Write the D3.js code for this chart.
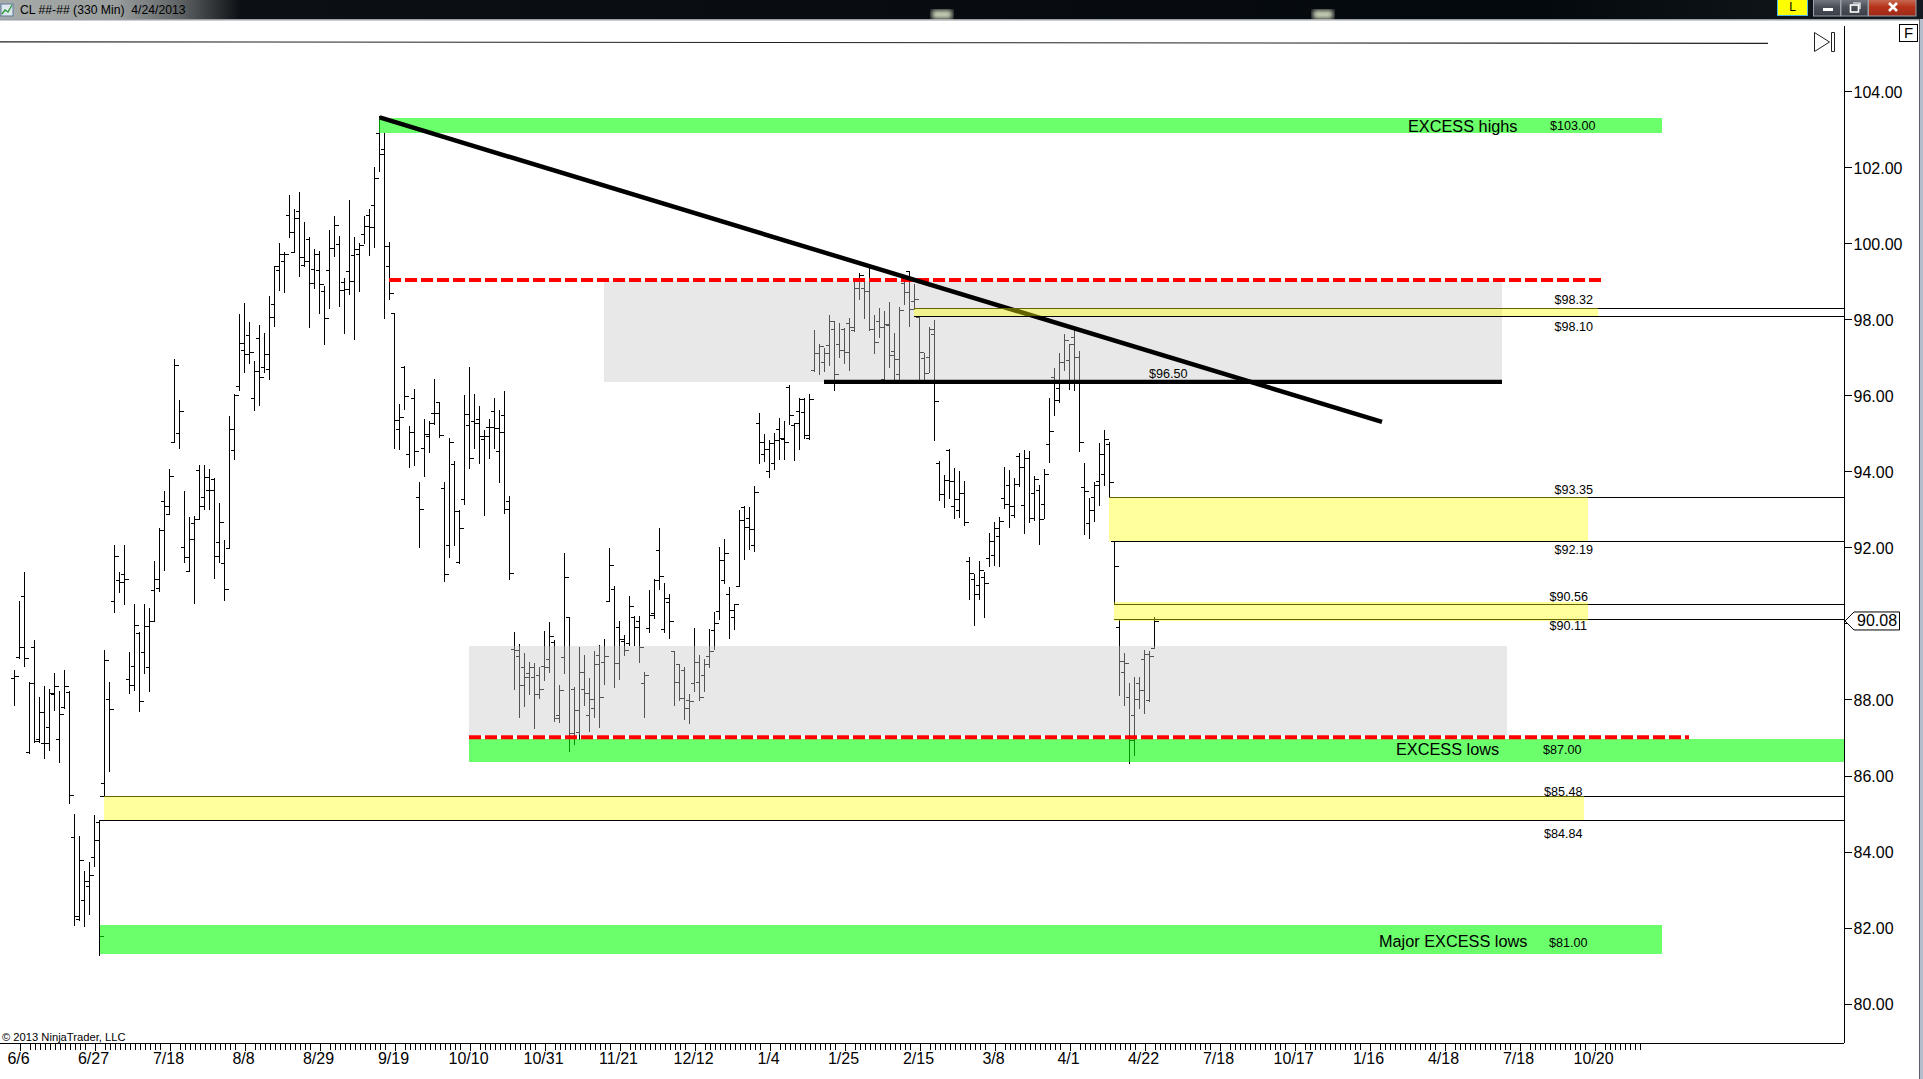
<!DOCTYPE html>
<html><head><meta charset="utf-8"><title>CL ##-## (330 Min) 4/24/2013</title>
<script src="https://cdn.jsdelivr.net/npm/d3@7/dist/d3.min.js"></script>
<style>html,body{margin:0;padding:0;background:#fff;overflow:hidden}svg{display:block}text{font-family:"Liberation Sans",Arial,sans-serif;fill:#000}</style>
</head><body><svg id="c" width="1923" height="1079"></svg>
<script>
// ---- OHLC bars (one entry per 330 min bar) ----
const barOpen=[88.58,89.13,90.74,86.63,89.39,86.97,86.87,87.29,88.16,86.97,
87.82,88.21,84.39,82.24,82.74,83.10,83.87,84.79,85.81,88.03,
90.61,91.16,91.31,88.55,88.89,89.76,89.26,88.87,90.89,90.95,
93.24,92.89,94.79,95.03,92.03,91.39,92.66,94.05,93.34,93.53,
93.82,92.16,91.60,92.00,94.58,96.26,97.21,97.60,95.95,97.53,
96.76,96.71,98.42,99.32,99.55,100.76,99.79,100.87,99.45,100.13,
99.34,99.32,98.76,99.32,99.89,100.00,98.99,99.29,99.71,99.74,
100.26,100.76,101.03,102.92,102.50,99.42,98.18,95.13,96.76,94.47,
95.95,93.34,94.63,94.95,95.55,95.84,93.58,92.08,94.21,91.63,
93.29,95.24,95.34,95.39,94.87,95.18,95.60,94.55,95.50,93.24,
89.34,89.16,88.87,88.71,88.60,88.66,88.89,89.08,89.53,87.61,
89.13,90.18,88.29,87.16,88.29,87.61,87.79,89.18,89.00,90.61,
90.92,89.92,89.55,89.50,90.18,90.08,88.45,89.89,90.29,91.95,
89.87,90.58,89.29,88.95,88.79,88.00,88.45,88.47,88.66,89.16,
89.84,90.34,91.16,90.79,90.18,91.00,93.08,92.79,92.08,95.29,
94.47,94.03,94.24,95.13,94.87,96.24,95.24,95.60,95.58,94.89,
96.68,97.13,96.89,97.34,97.76,97.37,97.76,97.92,97.74,99.03,
98.84,98.76,97.76,97.97,96.45,97.87,97.18,96.58,98.97,99.29,
98.50,98.08,97.00,97.03,97.63,94.24,93.42,94.58,93.11,93.00,
93.45,91.66,91.18,91.03,91.24,91.74,91.82,92.31,93.31,93.66,
92.87,94.42,93.13,94.37,93.45,93.53,93.16,94.74,96.50,96.21,
96.89,96.95,97.55,97.03,93.60,92.66,93.34,93.76,93.95,94.74,
92.18,89.92,88.74,88.08,87.60,88.45,89.08,88.00,89.37];
const barHigh=[88.79,90.61,91.37,88.47,89.58,88.08,88.37,88.29,88.71,88.24,
88.79,88.24,85.00,84.42,83.50,83.74,84.97,84.84,89.31,88.47,
92.08,91.37,92.08,89.26,90.53,89.79,90.53,90.42,91.66,92.53,
93.50,94.08,96.97,95.89,93.50,92.81,92.84,94.18,94.18,94.08,
93.84,93.18,92.21,95.47,96.05,98.16,98.45,97.95,96.92,97.87,
97.66,98.63,99.42,100.03,99.79,101.29,100.92,101.37,100.58,100.18,
99.87,99.82,98.89,100.37,100.74,100.21,99.10,101.16,100.18,100.03,
100.74,100.92,102.03,103.37,102.92,100.05,98.18,95.79,96.79,95.21,
96.18,93.74,95.39,95.34,96.45,95.84,93.74,94.89,94.29,93.00,
96.03,96.76,96.05,95.74,95.10,95.39,95.95,95.63,96.13,93.37,
89.79,89.47,89.24,89.00,88.97,88.87,89.81,90.05,89.58,88.39,
91.87,90.18,88.34,89.39,89.18,88.58,89.29,89.45,89.60,92.00,
91.00,90.08,89.71,90.74,90.21,90.21,88.74,90.89,91.18,92.53,
91.08,90.79,89.29,88.95,88.87,88.16,89.89,89.18,89.08,89.87,
90.32,92.03,92.24,90.97,90.53,93.00,93.11,93.08,93.63,95.55,
95.00,94.84,95.03,95.42,95.34,96.29,95.29,95.95,95.95,96.05,
97.74,97.37,97.26,98.13,97.97,97.92,97.79,98.05,99.08,99.24,
99.10,99.39,98.13,98.32,98.24,98.47,97.66,98.34,99.03,99.29,
98.95,98.08,97.13,97.82,98.00,94.29,93.92,94.61,94.11,94.03,
93.76,91.76,91.31,91.66,91.37,92.39,92.68,92.82,94.13,94.05,
93.84,94.50,94.58,94.55,93.89,93.66,94.08,95.95,96.74,97.13,
97.63,97.37,97.74,97.18,94.24,93.32,93.74,94.76,95.11,94.79,
92.18,90.11,89.24,88.45,88.61,88.61,89.32,89.29,90.18];
const barLow=[87.87,89.10,88.89,86.60,86.89,86.89,86.47,86.68,87.74,86.37,
87.79,85.29,82.08,82.21,82.05,82.37,83.63,81.29,85.47,86.13,
90.31,90.84,90.53,88.18,88.26,87.71,88.71,88.24,90.08,90.87,
91.42,92.89,94.79,94.63,91.63,91.39,90.55,92.76,93.03,93.03,
91.21,91.63,90.63,92.00,94.34,96.16,96.63,96.87,95.63,95.76,
96.63,96.45,97.84,98.79,98.74,100.18,99.79,99.16,99.42,97.82,
98.84,98.18,97.37,98.31,99.68,98.37,97.66,98.68,97.50,98.76,
100.03,99.71,99.92,101.92,98.05,98.55,94.63,94.60,95.66,94.13,
94.18,92.03,93.89,94.53,95.26,94.92,91.13,91.76,92.08,91.60,
93.16,94.10,94.63,94.24,92.87,94.37,94.63,93.74,92.92,91.18,
88.29,87.55,87.84,88.16,87.26,88.05,88.53,88.74,87.45,87.42,
88.71,86.66,86.84,86.97,87.87,87.18,87.55,87.29,88.42,90.61,
88.34,88.55,89.18,89.45,89.45,89.00,87.55,89.79,90.16,90.92,
89.79,89.63,87.87,88.00,87.50,87.39,88.24,88.00,88.24,88.87,
89.34,90.13,91.08,89.63,89.87,91.00,91.71,91.97,91.92,94.24,
94.29,93.87,94.08,94.34,94.34,95.26,94.32,94.60,94.89,94.87,
96.66,96.58,96.66,96.82,96.16,97.03,96.87,96.68,97.71,98.55,
98.05,97.74,97.13,97.55,96.37,96.76,96.37,96.37,98.42,97.84,
98.29,96.37,96.37,96.63,94.84,93.26,93.08,93.32,92.79,92.82,
92.61,90.66,89.97,90.66,90.18,91.53,91.55,91.53,93.05,92.55,
92.82,93.63,92.39,92.68,92.74,92.11,92.79,94.26,95.50,95.84,
96.68,96.18,96.16,94.55,92.37,92.26,92.71,93.13,93.66,93.34,
90.53,88.13,87.87,86.34,86.55,87.79,87.66,87.97,89.37];
const barClose=[88.63,89.39,89.10,88.45,86.92,87.68,86.87,88.18,88.37,87.63,
88.37,85.50,82.31,83.79,83.24,83.39,84.32,81.79,89.05,87.76,
91.79,91.10,91.18,88.39,89.97,87.97,89.95,90.08,91.18,92.47,
93.11,93.89,96.81,95.60,91.76,92.24,92.76,93.11,93.87,93.53,
91.79,92.68,90.92,95.13,96.03,97.39,97.10,97.16,96.66,96.50,
97.10,98.08,99.42,99.74,99.74,100.31,100.68,99.66,99.55,98.97,
99.74,98.95,98.05,99.89,100.50,98.79,98.81,99.03,99.87,99.97,
100.47,100.45,101.74,102.37,99.95,98.71,95.37,95.45,96.00,95.05,
94.55,93.03,95.00,95.29,95.55,94.97,91.31,94.79,92.97,92.53,
95.53,94.37,95.29,94.95,94.95,95.18,95.16,95.05,93.03,91.34,
89.31,88.39,88.60,88.87,88.16,88.29,88.87,89.68,87.53,88.26,
91.24,87.13,87.74,88.74,88.18,88.03,88.95,88.08,89.16,91.55,
88.97,89.60,89.31,90.47,89.92,89.39,88.66,90.24,91.16,91.26,
90.68,90.08,88.47,88.05,87.79,87.97,89.00,88.08,88.95,89.29,
90.03,91.68,91.87,90.37,90.53,92.74,92.55,92.50,93.47,94.79,
94.60,94.76,94.84,94.89,94.79,95.50,95.29,95.92,94.97,95.92,
97.13,97.32,97.13,97.97,96.58,97.21,97.16,97.82,98.84,99.18,
98.76,97.76,97.42,97.82,97.89,97.08,96.97,98.26,98.74,98.29,
98.55,97.16,96.61,97.76,95.87,93.42,93.79,93.76,93.29,93.45,
92.68,91.34,90.79,91.42,91.08,92.18,92.53,92.71,93.16,93.11,
93.68,94.13,94.37,92.79,93.82,92.76,93.95,95.08,95.89,96.89,
97.47,97.37,97.03,94.79,93.50,93.00,93.66,94.47,94.87,93.74,
91.53,89.03,88.97,86.95,88.03,88.26,89.21,89.16,90.08];

// ---- axes ----
const dateLabels=["6/6","6/27","7/18","8/8","8/29","9/19","10/10","10/31","11/21","12/12","1/4","1/25","2/15","3/8","4/1","4/22","7/18","10/17","1/16","4/18","7/18","10/20"];
const priceTicks=[80,82,84,86,88,90,92,94,96,98,100,102,104];
const lastPrice=90.08;

// ---- drawing objects: [fromBar, toBar, topPrice, bottomPrice] ----
const greyZones=[[117.9,297.5,99.03,96.37],[90.9,298.5,89.42,87.08]];
const greenZones=[[72.9,329.5,103.32,102.92],[90.9,365.9,86.97,86.37],[17,329.5,82.08,81.32]];
const yellowZones=[[179.9,316.7,98.32,98.10],[218.9,314.7,93.35,92.19],[219.9,314.7,90.58,90.08],[17.9,313.8,85.48,84.84]];
// [fromBar, price]
const thinLines=[[179.9,98.32],[179.9,98.10],[218.9,93.35],[219.4,92.19],[219.9,90.53],[219.9,90.13],[17,85.48],[17,84.84]];
// [fromBar, toBar, price]
const redDashes=[[74.9,317.5,99.05],[90.9,334.9,87.02]];
const support=[161.9,297.5,96.37];
const trendLine=[[73.04,103.33],[273.5,95.32]];
const topRule=[[-2.9,105.32],[350.7,105.28]];
// [text, startBar, price, size]
const notes=[["EXCESS highs",278.7,103.11,16.3],["$103.00",307.1,103.11,12.6],
["EXCESS lows",276.3,86.71,16.3],["$87.00",305.7,86.71,12.6],
["Major EXCESS lows",272.9,81.66,16.3],["$81.00",306.9,81.63,12.6],
["$96.50",226.9,96.58,12.6],
["$98.32",308.0,98.53,12.6],["$98.10",308.0,97.84,12.6],
["$93.35",308.0,93.55,12.6],["$92.19",308.0,91.95,12.6],
["$90.56",307.0,90.73,12.6],["$90.11",307.0,89.95,12.6],
["$85.48",305.9,85.58,12.6],["$84.84",305.9,84.50,12.6]];

// ---- scales ----
const x=d3.scaleLinear().domain([-2.9,365.9]).range([0,1844]);
const y=d3.scaleLinear().domain([105.7368,78.9737]).range([26,1043]);
const ry=p=>Math.round(y(p))+.5;
const svg=d3.select("#c");
const defs=svg.append("defs");
const bar=defs.append("linearGradient").attr("id","tb");
[[0,"#a6aaa8"],[.06,"#9a9e9e"],[.095,"#5c6062"],[.125,"#0c1014"],[.8,"#04090d"],[1,"#151a20"]].forEach(s=>bar.append("stop").attr("offset",s[0]).attr("stop-color",s[1]));
defs.append("filter").attr("id","bl").append("feGaussianBlur").attr("stdDeviation",2.4);
const wb=defs.append("linearGradient").attr("id","wb").attr("x2",0).attr("y2",1);
[[0,"#7d828a"],[.5,"#4b5058"],[1,"#3a3e46"]].forEach(s=>wb.append("stop").attr("offset",s[0]).attr("stop-color",s[1]));
const wr=defs.append("linearGradient").attr("id","wr").attr("x2",0).attr("y2",1);
[[0,"#c9785f"],[.5,"#b8321a"],[1,"#9c2a18"]].forEach(s=>wr.append("stop").attr("offset",s[0]).attr("stop-color",s[1]));

// ---- bars ----
const barsG=svg.append("g").attr("shape-rendering","crispEdges");
barsG.selectAll("path").data(d3.range(barOpen.length)).join("path")
 .attr("fill","none").attr("stroke","#000").attr("stroke-width",1)
 .attr("d",i=>{const X=x(i);return `M${X},${Math.round(y(barHigh[i]))}V${Math.round(y(barLow[i]))+1}M${X-3.5},${ry(barOpen[i])}H${X}M${X},${ry(barClose[i])}H${X+4}`;});

const zone=(sel,data,fill,op)=>sel.selectAll(null).data(data).join("rect")
 .attr("x",d=>x(d[0])).attr("width",d=>x(d[1])-x(d[0])).attr("y",d=>y(d[2])).attr("height",d=>y(d[3])-y(d[2]))
 .attr("fill",fill).attr("fill-opacity",op).attr("shape-rendering","crispEdges");

zone(svg.append("g"),greyZones,"rgb(200,200,200)",.42);
zone(svg.append("g"),greenZones,"rgb(0,255,0)",.58);

svg.append("g").selectAll("line").data(redDashes).join("line")
 .attr("x1",d=>x(d[0])).attr("x2",d=>x(d[1])).attr("y1",d=>y(d[2])).attr("y2",d=>y(d[2]))
 .attr("stroke","#ff0000").attr("stroke-width",4).attr("stroke-dasharray","12 4");

svg.append("line").attr("x1",x(trendLine[0][0])).attr("y1",y(trendLine[0][1])).attr("x2",x(trendLine[1][0])).attr("y2",y(trendLine[1][1]))
 .attr("stroke","#000").attr("stroke-width",4.5);
svg.append("line").attr("x1",x(support[0])).attr("x2",x(support[1])).attr("y1",y(support[2])).attr("y2",y(support[2]))
 .attr("stroke","#000").attr("stroke-width",4.2);
svg.append("line").attr("x1",x(topRule[0][0])).attr("y1",y(topRule[0][1])).attr("x2",x(topRule[1][0])).attr("y2",y(topRule[1][1]))
 .attr("stroke","#222").attr("stroke-width",1.1);

svg.append("g").attr("shape-rendering","crispEdges").selectAll("line").data(thinLines).join("line")
 .attr("x1",d=>x(d[0])).attr("x2",x(365.9)).attr("y1",d=>ry(d[1])).attr("y2",d=>ry(d[1]))
 .attr("stroke","#000");
zone(svg.append("g"),yellowZones,"rgb(255,255,0)",.39);

svg.append("g").selectAll("text").data(notes).join("text")
 .attr("x",d=>x(d[1])).attr("y",d=>y(d[2])).attr("dy",".36em").attr("font-size",d=>d[3]).text(d=>d[0]);

// ---- axes through d3 ----
const barTicks=d3.range(1,326).filter(i=>{const m=(i-1)%15;return m!==1&&m!==14;});
const xAxis=d3.axisBottom(x).tickValues(barTicks).tickSize(6).tickPadding(3).tickSizeOuter(0).offset(0)
 .tickFormat(i=>(i-1)%15===0?dateLabels[(i-1)/15]:"");
const gx=svg.append("g").attr("transform","translate(0,1043.5)").call(xAxis);
gx.selectAll(".tick line").attr("y2",i=>(i-1)%15===0?7:6).attr("shape-rendering","crispEdges").attr("transform","translate(.5,0)");
gx.selectAll("text").attr("font-size",16).attr("font-family",'"Liberation Sans"').attr("fill","#000").attr("x",-1);
gx.select(".domain").attr("stroke","#000").attr("shape-rendering","crispEdges");

const yAxis=d3.axisRight(y).tickValues(priceTicks).tickSize(7).tickPadding(2).tickSizeOuter(0).offset(0).tickFormat(d3.format(".2f"));
const gy=svg.append("g").attr("transform","translate(1844.5,0)").call(yAxis);
gy.selectAll(".tick line").attr("shape-rendering","crispEdges");
gy.selectAll("text").attr("font-size",16).attr("font-family",'"Liberation Sans"').attr("fill","#000").attr("dy",".38em");
gy.select(".domain").attr("stroke","#000").attr("shape-rendering","crispEdges");

// last price marker
const ly=y(lastPrice);
svg.append("path").attr("d",`M1845,${ly}L1854,${ly-9}H1899.5V${ly+9}H1854Z`).attr("fill","#fff").attr("stroke","#000").attr("stroke-width",1);
svg.append("text").attr("x",1857).attr("y",ly-1).attr("dy",".36em").attr("font-size",16).text(d3.format(".2f")(lastPrice));

svg.append("text").attr("x",2).attr("y",1037).attr("dy",".36em").attr("font-size",11.2).text("© 2013 NinjaTrader, LLC");

// chart buttons
svg.append("path").attr("d","M1814.5,32.5L1829.5,42L1814.5,51.5ZM1831.5,32.5h3v19h-3Z").attr("fill","#fff").attr("stroke","#222");
svg.append("rect").attr("x",1899.5).attr("y",24.5).attr("width",18).attr("height",17).attr("fill","#fff").attr("stroke","#000");
svg.append("text").attr("x",1908.5).attr("y",33).attr("dy",".36em").attr("font-size",15).attr("text-anchor","middle").text("F");

// window chrome
const chrome=svg.append("g");
chrome.append("rect").attr("width",1923).attr("height",19).attr("fill","url(#tb)");
chrome.append("rect").attr("y",19).attr("width",1923).attr("height",1.5).attr("fill","#9aa0a6");
[927,1308].forEach(X=>chrome.append("rect").attr("x",X+5).attr("y",10).attr("width",20).attr("height",9).attr("fill","#c9d2b8").attr("filter","url(#bl)"));
chrome.append("rect").attr("y",20.5).attr("width",1923).attr("height",20).attr("fill","#fff").attr("fill-opacity",0);
chrome.append("rect").attr("x",1).attr("y",4).attr("width",12).attr("height",12).attr("fill","#dfe8ef").attr("stroke","#5a7a9a");
chrome.append("path").attr("d","M2,14L5,10L8,12L12,5").attr("fill","none").attr("stroke","#2f9a3a").attr("stroke-width",1.4);
chrome.append("text").attr("x",20).attr("y",10).attr("dy",".36em").attr("font-size",12.2).attr("font-family",'"Noto Sans"').attr("fill","#0a0a14").attr("xml:space","preserve").text("CL ##-## (330 Min)  4/24/2013");
chrome.append("rect").attr("x",1777.5).attr("y",-1).attr("width",30).attr("height",16.5).attr("fill","#ffff00").attr("stroke","#4fb6e8");
chrome.append("text").attr("x",1792.5).attr("y",7).attr("dy",".36em").attr("font-size",12).attr("text-anchor","middle").attr("font-family",'"Noto Sans"').text("L");
chrome.append("rect").attr("x",1813.5).attr("y",-2).attr("width",27).attr("height",18).attr("fill","url(#wb)").attr("stroke","#9aa0a8");
chrome.append("rect").attr("x",1841).attr("y",-2).attr("width",27).attr("height",18).attr("fill","url(#wb)").attr("stroke","#9aa0a8");
chrome.append("rect").attr("x",1868.5).attr("y",-2).attr("width",47.5).attr("height",18).attr("fill","url(#wr)").attr("stroke","#9aa0a8");
chrome.append("rect").attr("x",1823).attr("y",8).attr("width",10).attr("height",3).attr("fill","#fff");
chrome.append("rect").attr("x",1850.5).attr("y",5).attr("width",8).attr("height",7).attr("fill","none").attr("stroke","#fff").attr("stroke-width",1.6);
chrome.append("path").attr("d","M1853,3H1860V9").attr("fill","none").attr("stroke","#fff").attr("stroke-width",1.2);
chrome.append("path").attr("d","M1889,3L1897,11M1897,3L1889,11").attr("stroke","#fff").attr("stroke-width",2.6);
chrome.append("rect").attr("x",1919).attr("y",19).attr("width",4).attr("height",1060).attr("fill","#b3bdcb");
chrome.append("rect").attr("x",1919).attr("y",19).attr("width",1).attr("height",1060).attr("fill","#5c6068");
</script></body></html>
